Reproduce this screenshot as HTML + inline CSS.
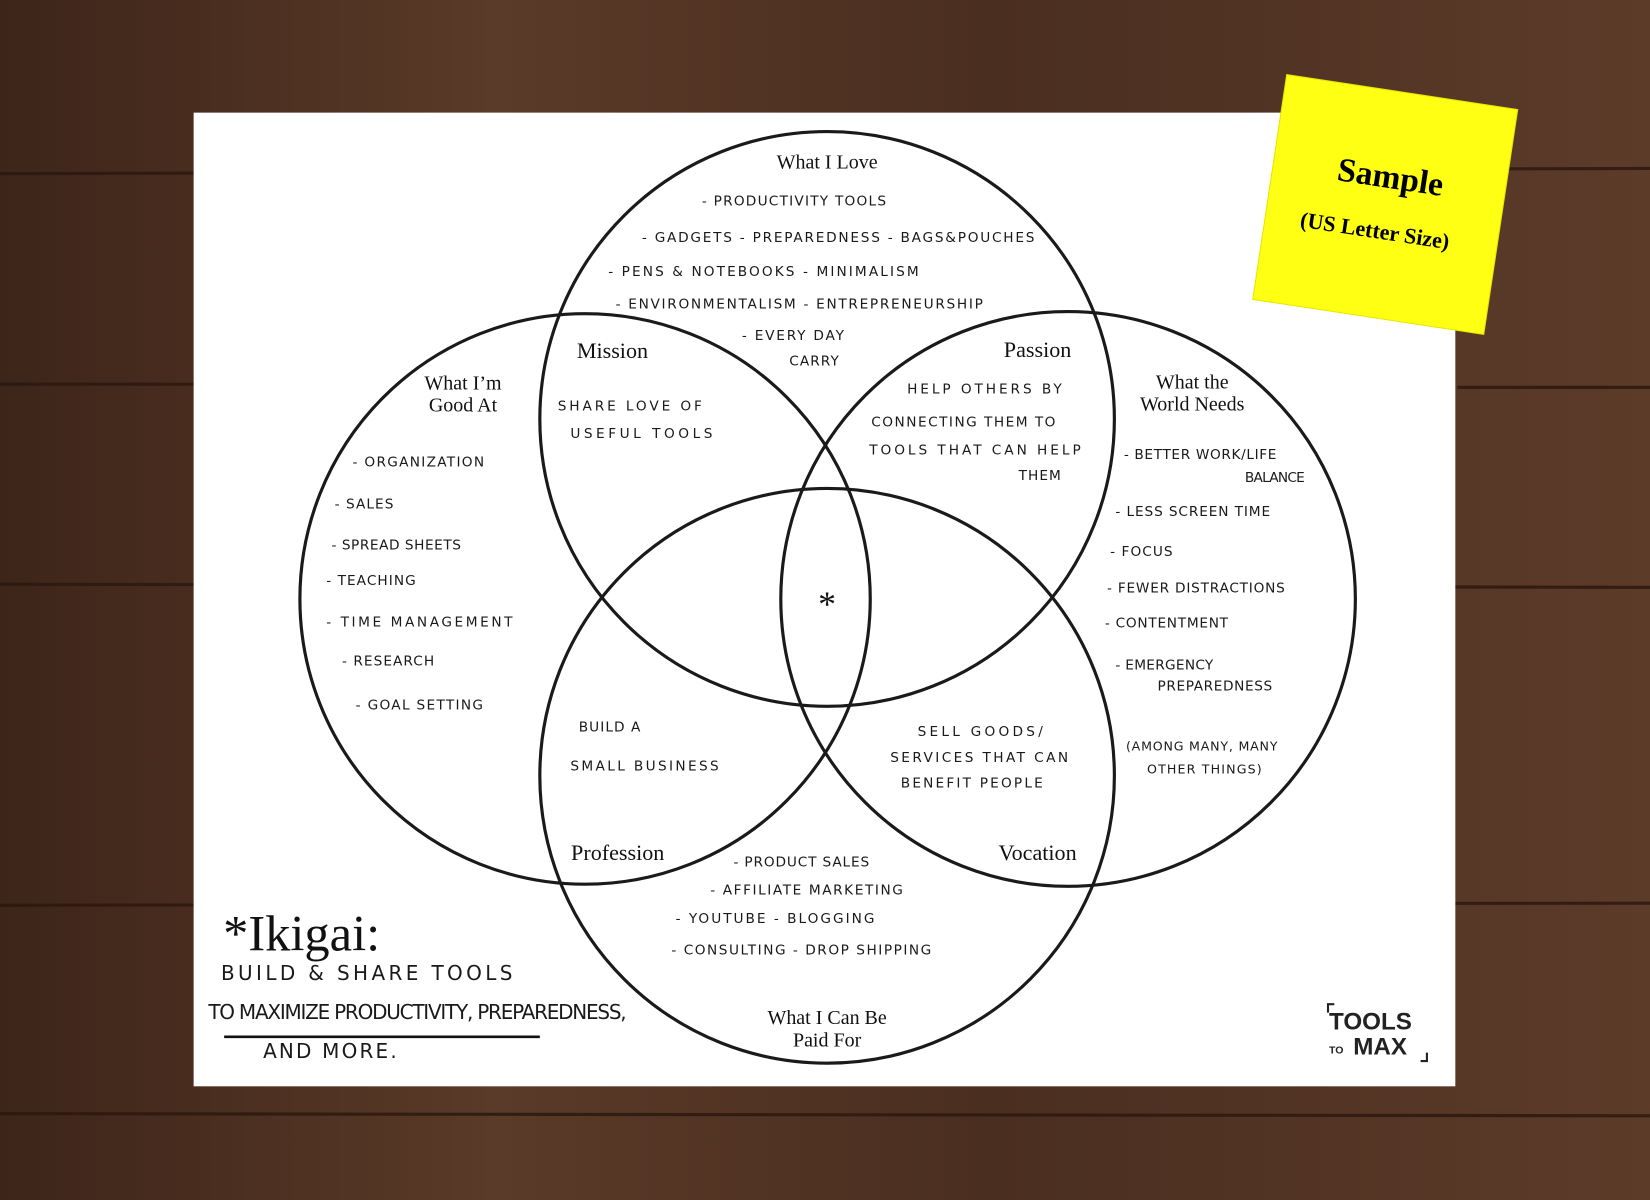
<!DOCTYPE html>
<html><head><meta charset="utf-8"><style>
html,body{margin:0;padding:0;width:1650px;height:1200px;overflow:hidden;background:#4b3022}
svg{display:block}
.h{font-family:"DejaVu Sans","Liberation Sans",sans-serif;font-size:13px;fill:#1a1a1a;letter-spacing:1px;font-weight:normal}
.s{font-family:"Liberation Serif",serif;font-size:19px;fill:#111}
</style></head><body>
<svg width="1650" height="1200" viewBox="0 0 1568 1140" preserveAspectRatio="none" xmlns="http://www.w3.org/2000/svg">
<defs>
<linearGradient id="w" x1="0" y1="0" x2="1" y2="0">
<stop offset="0" stop-color="#3d2519"/><stop offset="0.3" stop-color="#5a3a28"/><stop offset="0.6" stop-color="#4a2e20"/><stop offset="1" stop-color="#5c3b29"/>
</linearGradient>
</defs>
<rect width="1568" height="1140" fill="url(#w)"/>
<g stroke="#2a170f" stroke-width="3" opacity="0.8">
<line x1="0" y1="165" x2="1568" y2="160"/>
<line x1="0" y1="555" x2="1568" y2="558"/>
<line x1="0" y1="860" x2="1568" y2="858"/>
<line x1="0" y1="1058" x2="1568" y2="1060"/>
<line x1="0" y1="365" x2="190" y2="365"/>
<line x1="1385" y1="368" x2="1568" y2="368"/>
</g>
<rect x="184" y="107" width="1199" height="925" fill="#fff"/>
<g fill="none" stroke="#1a1a1a" stroke-width="3">
<circle cx="786" cy="398" r="273"/>
<circle cx="556" cy="569" r="271"/>
<circle cx="1015" cy="569" r="273"/>
<circle cx="786" cy="737" r="273"/>
</g>
<g class="s" text-anchor="middle">
<text x="786" y="160">What I Love</text>
<text x="440" y="370">What I’m</text><text x="440" y="391">Good At</text>
<text x="1133" y="369">What the</text><text x="1133" y="390">World Needs</text>
<text x="786" y="973">What I Can Be</text><text x="786" y="994">Paid For</text>
<text x="582" y="340" font-size="21">Mission</text>
<text x="986" y="339" font-size="21">Passion</text>
<text x="587" y="817" font-size="21">Profession</text>
<text x="986" y="817" font-size="21">Vocation</text>
<text x="786" y="585" font-size="34">*</text>
</g>
<g class="h">
<text x="667" y="195" textLength="176">- PRODUCTIVITY TOOLS</text>
<text x="610" y="230" textLength="374">- GADGETS  - PREPAREDNESS  - BAGS&amp;POUCHES</text>
<text x="578" y="262" textLength="296">- PENS &amp; NOTEBOOKS   - MINIMALISM</text>
<text x="585" y="293" textLength="350">- ENVIRONMENTALISM  - ENTREPRENEURSHIP</text>
<text x="705" y="323" textLength="98">- EVERY DAY</text><text x="750" y="347">CARRY</text>
<text x="530" y="390" textLength="138">SHARE LOVE OF</text><text x="542" y="416" textLength="136">USEFUL  TOOLS</text>
<text x="862" y="374" textLength="148">HELP OTHERS BY</text>
<text x="828" y="405" textLength="176">CONNECTING THEM TO</text>
<text x="826" y="432" textLength="202">TOOLS THAT CAN HELP</text>
<text x="968" y="456">THEM</text>
<text x="335" y="443" textLength="126">- ORGANIZATION</text>
<text x="318" y="483">- SALES</text>
<text x="315" y="522" textLength="124">- SPREAD SHEETS</text>
<text x="310" y="556">- TEACHING</text>
<text x="310" y="595" textLength="178">- TIME MANAGEMENT</text>
<text x="325" y="632">- RESEARCH</text>
<text x="338" y="674" textLength="122">- GOAL SETTING</text>
<text x="1068" y="436" textLength="146">- BETTER WORK/LIFE</text>
<text x="1183" y="458" textLength="58">BALANCE</text>
<text x="1060" y="490" textLength="148">- LESS SCREEN TIME</text>
<text x="1055" y="528">- FOCUS</text>
<text x="1052" y="563" textLength="170">- FEWER DISTRACTIONS</text>
<text x="1050" y="596" textLength="118">- CONTENTMENT</text>
<text x="1060" y="636" textLength="94">- EMERGENCY</text>
<text x="1100" y="656" textLength="110">PREPAREDNESS</text>
<text x="1070" y="713" font-size="12" textLength="145">(AMONG MANY, MANY</text>
<text x="1090" y="735" font-size="12" textLength="110">OTHER THINGS)</text>
<text x="550" y="695">BUILD A</text><text x="542" y="732" textLength="142">SMALL BUSINESS</text>
<text x="872" y="699" textLength="120">SELL GOODS/</text>
<text x="846" y="724" textLength="170">SERVICES THAT CAN</text>
<text x="856" y="748" textLength="136">BENEFIT PEOPLE</text>
<text x="697" y="823" textLength="130">- PRODUCT SALES</text>
<text x="675" y="850" textLength="184">- AFFILIATE MARKETING</text>
<text x="642" y="877" textLength="190">- YOUTUBE   - BLOGGING</text>
<text x="638" y="907" textLength="248">- CONSULTING  - DROP SHIPPING</text>
<text x="210" y="931" font-size="19" textLength="278">BUILD &amp; SHARE  TOOLS</text>
<text x="198" y="968" font-size="19" letter-spacing="0.5" textLength="398">TO MAXIMIZE PRODUCTIVITY, PREPAREDNESS,</text>
<text x="250" y="1005" font-size="19" textLength="128">AND MORE.</text>
</g>
<line x1="213" y1="985" x2="513" y2="985" stroke="#111" stroke-width="2.5"/>
<text x="212" y="903" font-family="Liberation Serif,serif" font-size="48" fill="#111">*Ikigai:</text>
<g font-family="Liberation Sans,sans-serif" font-weight="bold" fill="#222">
<text x="1263" y="978" font-size="23">TOOLS</text>
<text x="1263" y="1001" font-size="10">TO</text>
<text x="1286" y="1002" font-size="23">MAX</text>
</g>
<path d="M1262 962 v-8 h6 M1356 1000 v8 h-6" stroke="#222" stroke-width="2" fill="none"/>
<g transform="rotate(8.6 1315 190)">
<rect x="1206" y="86" width="222" height="216" fill="#ffff14" stroke="#e6e600" stroke-width="1"/>
<text x="1318" y="178" text-anchor="middle" font-family="Liberation Serif,serif" font-weight="bold" font-size="32" fill="#000">Sample</text>
<text x="1311" y="227" text-anchor="middle" font-family="Liberation Serif,serif" font-weight="bold" font-size="21" fill="#000">(US Letter Size)</text>
</g>
</svg>
</body></html>
